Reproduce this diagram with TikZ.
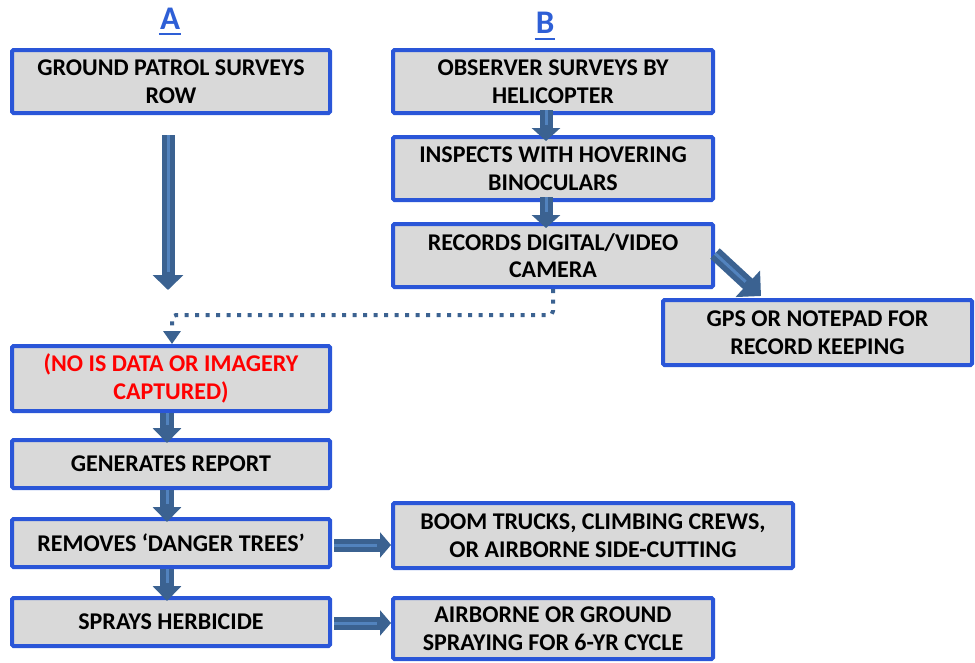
\documentclass[tikz,border=0pt]{standalone}
\usepackage{fontspec}
\setmainfont{Carlito}
\usetikzlibrary{arrows.meta,calc}
\definecolor{boxblue}{HTML}{2A56D8}
\definecolor{boxfill}{HTML}{D9D9D9}
\definecolor{arrdark}{HTML}{3B6291}
\definecolor{arrlight}{HTML}{5283BE}
\definecolor{hdrblue}{HTML}{2E5FD6}
\definecolor{txtred}{HTML}{FF0000}
\newcommand\blkarrow[5]{%
  \draw[arrdark, line width=#3, -{Triangle[width=#4,length=#5]}] #1 -- #2;
  \draw[arrlight, line width=3pt, shorten >=#5+3pt] #1 -- #2;}
\begin{document}
\begin{tikzpicture}[x=1pt,y=-1pt,
  box/.style={draw=boxblue, line width=4pt, fill=boxfill, rounded corners=1.5pt,
    inner sep=0pt, align=center, text=black,
    font=\bfseries\fontsize{24}{27.5}\selectfont},
  hdr/.style={inner sep=0pt, text=hdrblue, font=\bfseries\fontsize{33}{33}\selectfont},
  dotline/.style={arrdark, line width=4pt, dash pattern=on 4pt off 6.5pt,
    rounded corners=4pt, -{Triangle[width=17pt,length=13pt]}}]
\useasboundingbox (0,0) rectangle (975,662);
% headers
\node[hdr, anchor=base] (hA) at (170,29) {A};
\draw[hdrblue, line width=2.7pt] ($(hA.base west)+(-1,5)$) -- ($(hA.base east)+(1,5)$);
\node[hdr, anchor=base] (hB) at (545,33) {B};
\draw[hdrblue, line width=2.7pt] ($(hB.base west)+(-1,6)$) -- ($(hB.base east)+(1,6)$);
% boxes
\node[box, minimum width=318pt, minimum height=63pt] (g1) at (171,81.5) {GROUND PATROL SURVEYS\\ROW};
\node[box, minimum width=320pt, minimum height=63pt] (b1) at (553,81.5) {OBSERVER SURVEYS BY\\HELICOPTER};
\node[box, minimum width=320pt, minimum height=63pt] (b2) at (553,168.5) {INSPECTS WITH HOVERING\\BINOCULARS};
\node[box, minimum width=320pt, minimum height=63pt] (b3) at (553,255.5) {RECORDS DIGITAL/VIDEO\\CAMERA};
\node[box, minimum width=309pt, minimum height=65pt] (gps) at (817.5,332.5) {GPS OR NOTEPAD FOR\\RECORD KEEPING};
\node[box, minimum width=318pt, minimum height=65pt, text=txtred] (n) at (171,378.5) {(NO IS DATA OR IMAGERY\\CAPTURED)};
\node[box, minimum width=318pt, minimum height=48pt] (gr) at (171,464) {GENERATES REPORT};
\node[box, minimum width=318pt, minimum height=48pt] (rm) at (171,543) {REMOVES ‘DANGER TREES’};
\node[box, minimum width=318pt, minimum height=48pt] (sp) at (171,622) {SPRAYS HERBICIDE};
\node[box, minimum width=400pt, minimum height=65pt] (bt) at (593,535.5) {BOOM TRUCKS, CLIMBING CREWS,\\OR AIRBORNE SIDE-CUTTING};
\node[box, minimum width=320pt, minimum height=61pt] (as) at (553,628.5) {AIRBORNE OR GROUND\\SPRAYING FOR 6-YR CYCLE};
% block arrows
\blkarrow{($(g1.south)+(-3,20)$)}{($(n.north)+(-3,-54)$)}{13pt}{30pt}{15pt}
\blkarrow{($(b1.south)+(-7,-5)$)}{($(b2.north)+(-7,6)$)}{13pt}{28pt}{13pt}
\blkarrow{($(b2.south)+(-7,-5)$)}{($(b3.north)+(-7,6)$)}{13pt}{28pt}{13pt}
\blkarrow{($(n.south)+(-4,0)$)}{($(gr.north)+(-4,5)$)}{14pt}{28pt}{15pt}
\blkarrow{($(gr.south)+(-4,0)$)}{($(rm.north)+(-4,5)$)}{14pt}{28pt}{15pt}
\blkarrow{($(rm.south)+(-4,0)$)}{($(sp.north)+(-4,5)$)}{14pt}{28pt}{15pt}
\blkarrow{($(rm.east)+(2,2)$)}{($(bt.west)+(0,9.5)$)}{13pt}{25pt}{11pt}
\blkarrow{($(sp.east)+(2,1)$)}{($(as.west)+(0,-5.5)$)}{13pt}{25pt}{11pt}
\blkarrow{($(b3.east)+(0,-2)$)}{($(gps.north west)+(100,-2)$)}{14pt}{35pt}{18pt}
% dotted connector
\draw[dotline] (b3.south) -- ++(0,26) -| ($(n.north)+(1,0)$);
\end{tikzpicture}
\end{document}
